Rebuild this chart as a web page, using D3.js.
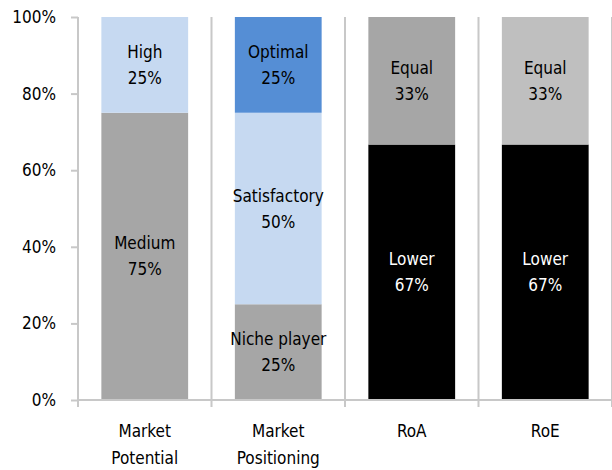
<!DOCTYPE html>
<html>
<head>
<meta charset="utf-8">
<script src="https://cdn.jsdelivr.net/npm/d3@7"></script>
<style>
  body { margin: 0; background: #fff; }
  text { font-family: "Liberation Sans Narrow", "DejaVu Sans Condensed", "Roboto Condensed", sans-serif; }
</style>
</head>
<body>
<div id="chart"></div>
<script>
// data
var categories = ["Market Potential", "Market Positioning", "RoA", "RoE"];
var potential = [{name: "Medium", value: 75}, {name: "High", value: 25}];
var positioning = [{name: "Niche player", value: 25}, {name: "Satisfactory", value: 50}, {name: "Optimal", value: 25}];
var roa = [{name: "Lower", value: 66.7}, {name: "Equal", value: 33.3}];
var roe = [{name: "Lower", value: 66.7}, {name: "Equal", value: 33.3}];
var yTicks = [0, 20, 40, 60, 80, 100];

var segments = [potential, positioning, roa, roe];
var fills = [
  ["#a6a6a6", "#c6d9f1"],
  ["#a6a6a6", "#c6d9f1", "#558ed5"],
  ["#000000", "#a6a6a6"],
  ["#000000", "#bfbfbf"]
];

var margin = {top: 17, right: 0, bottom: 70, left: 78},
    width = 612 - margin.left - margin.right,
    height = 470 - margin.top - margin.bottom;

var svg = d3.select("#chart")
  .append("svg")
    .attr("width", 612)
    .attr("height", 470)
  .append("g")
    .attr("transform", "translate(" + margin.left + "," + margin.top + ")");

var x = d3.scaleBand()
  .domain(categories)
  .range([0, width])
  .paddingInner(0.35)
  .paddingOuter(0.175);

var y = d3.scaleLinear()
  .domain([0, 100])
  .range([height, 0]);

// vertical separators between categories
var step = x.step();
var seps = d3.range(categories.length + 1).map(function(i) { return i * width / categories.length; });
svg.selectAll(".sep")
  .data(seps)
  .enter().append("line")
    .attr("x1", function(d) { return d; })
    .attr("x2", function(d) { return d; })
    .attr("y1", 0)
    .attr("y2", height + 7)
    .attr("stroke", "#c8c8c8")
    .attr("stroke-width", 2);

// bars
categories.forEach(function(cat, ci) {
  var acc = 0;
  var segs = segments[ci].map(function(s, si) {
    var r = {name: s.name, y0: acc, y1: acc + s.value, value: s.value, fill: fills[ci][si]};
    acc += s.value;
    return r;
  });
  var g = svg.append("g");
  g.selectAll("rect")
    .data(segs)
    .enter().append("rect")
      .attr("x", x(cat))
      .attr("width", x.bandwidth())
      .attr("y", function(d) { return y(d.y1); })
      .attr("height", function(d) { return y(d.y0) - y(d.y1); })
      .attr("fill", function(d) { return d.fill; });

  var lbl = g.selectAll("text")
    .data(segs)
    .enter().append("text")
      .attr("text-anchor", "middle")
      .attr("font-size", 17)
      .attr("fill", function(d) { return d.fill == "#000000" ? "#fff" : "#000"; })
      .attr("transform", function(d) {
        return "translate(" + (x(cat) + x.bandwidth() / 2) + "," + y((d.y0 + d.y1) / 2) + ")";
      });
  lbl.append("tspan").attr("x", 0).attr("y", -7).text(function(d) { return d.name; });
  lbl.append("tspan").attr("x", 0).attr("y", 19).text(function(d) { return Math.round(d.value) + "%"; });
});

// y axis
var yAxis = svg.append("g")
  .call(d3.axisLeft(y).tickValues(yTicks).tickFormat(function(d) { return d + "%"; }).tickSize(7).tickPadding(15));
yAxis.selectAll("line").attr("stroke", "#c8c8c8").attr("stroke-width", 2);
yAxis.select(".domain").attr("stroke", "#c8c8c8").attr("stroke-width", 2).attr("d", "M0,0V" + height);
yAxis.selectAll("text").attr("font-size", 17).attr("fill", "#000").attr("font-family", null);

// baseline
svg.append("line")
  .attr("x1", 0).attr("x2", width)
  .attr("y1", height).attr("y2", height)
  .attr("stroke", "#c8c8c8").attr("stroke-width", 2);

// x labels
var xl = svg.selectAll(".xlab")
  .data(categories)
  .enter().append("text")
    .attr("text-anchor", "middle")
    .attr("font-size", 17)
    .attr("fill", "#000")
    .attr("transform", function(d) { return "translate(" + (x(d) + x.bandwidth() / 2) + "," + (height + 37) + ")"; });
xl.each(function(d) {
  var words = d.split(" ");
  var t = d3.select(this);
  words.forEach(function(w, i) {
    t.append("tspan").attr("x", 0).attr("y", i * 27).text(w);
  });
});
</script>
</body>
</html>
